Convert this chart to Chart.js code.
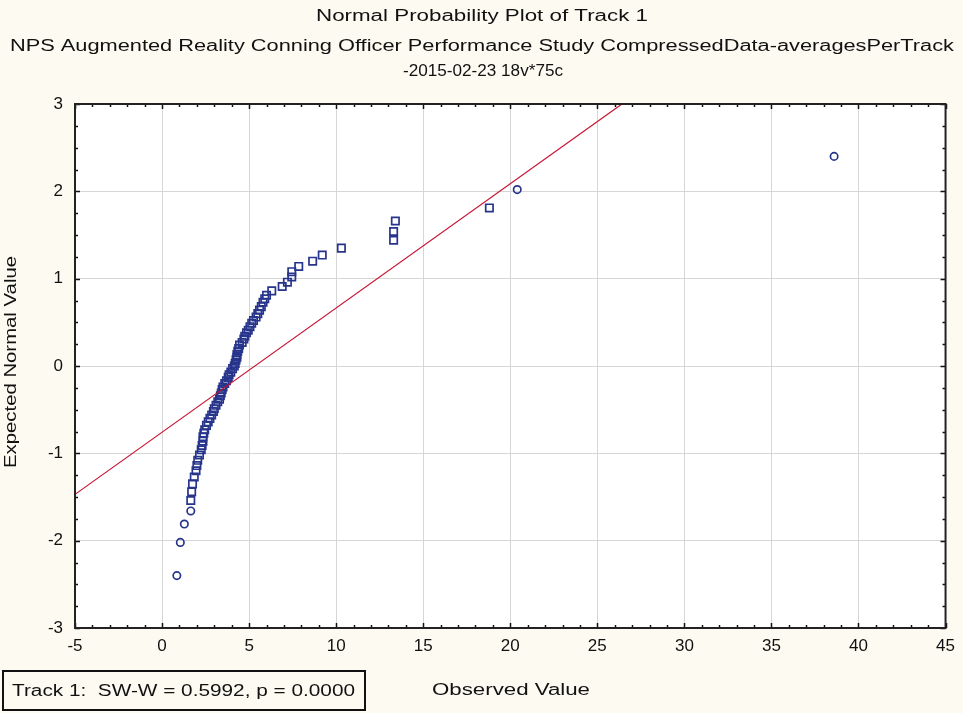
<!DOCTYPE html>
<html>
<head>
<meta charset="utf-8">
<script src="https://cdn.jsdelivr.net/npm/chart.js@4.4.1/dist/chart.umd.min.js"></script>
<style>
  html, body { margin: 0; padding: 0; background: #fdfbf1; }
  #wrap { width: 963px; height: 713px; }
</style>
</head>
<body>
<div id="wrap"><canvas id="c" width="963" height="713"></canvas></div>
<script>
// ---- Data ----
const chartTitle = "Normal Probability Plot of Track 1";
const chartSubtitle = [
  "NPS Augmented Reality Conning Officer Performance Study CompressedData-averagesPerTrack",
  "-2015-02-23 18v*75c"
];
const xAxisTitle = "Observed Value";
const yAxisTitle = "Expected Normal Value";
const statText = "Track 1:  SW-W = 0.5992, p = 0.0000";

// observed values (sorted)
const observedValues = [
  0.85, 1.05, 1.28, 1.65, 1.65, 1.70, 1.75, 1.85, 1.95, 2.00,
  2.05, 2.15, 2.25, 2.30, 2.35, 2.35, 2.40, 2.45, 2.55, 2.65,
  2.75, 2.85, 2.95, 3.00, 3.10, 3.20, 3.30, 3.35, 3.40, 3.45,
  3.50, 3.60, 3.70, 3.80, 3.85, 3.95, 4.05, 4.15, 4.20, 4.25,
  4.30, 4.30, 4.35, 4.40, 4.45, 4.60, 4.70, 4.75, 4.85, 4.95,
  5.05, 5.15, 5.25, 5.40, 5.50, 5.60, 5.70, 5.80, 5.90, 6.00,
  6.30, 6.90, 7.20, 7.45, 7.45, 7.85, 8.65, 9.20, 10.30, 13.30,
  13.30, 13.40, 18.80, 20.40, 38.60
];
// expected normal values (as plotted)
const expectedNormal = [
  -2.40, -2.02, -1.81, -1.66, -1.54, -1.44, -1.35, -1.27, -1.20, -1.14,
  -1.08, -1.02, -0.96, -0.91, -0.86, -0.81, -0.77, -0.73, -0.68, -0.64,
  -0.60, -0.56, -0.52, -0.49, -0.45, -0.41, -0.38, -0.34, -0.31, -0.27,
  -0.24, -0.20, -0.17, -0.13, -0.10, -0.07, -0.03, 0.00, 0.03, 0.07,
  0.10, 0.13, 0.17, 0.20, 0.24, 0.27, 0.31, 0.34, 0.38, 0.41,
  0.45, 0.49, 0.52, 0.56, 0.60, 0.64, 0.68, 0.73, 0.77, 0.81,
  0.86, 0.91, 0.96, 1.02, 1.08, 1.14, 1.20, 1.27, 1.35, 1.44,
  1.54, 1.66, 1.81, 2.02, 2.40
];
// which points are drawn as circles (the rest are squares)
const circleMarkers = [0, 1, 2, 3, 73, 74];

// reference (fit) line end points
const fitLineX = [-5, 30];
const fitLineY = [-1.47, 3.51];

// axis ranges
const xRange = [-5, 45];
const yRange = [-3, 3];

// ---- Build chart ----
const pointData = observedValues.map((x, i) => ({ x: x, y: expectedNormal[i] }));
const lineData = fitLineX.map((x, i) => ({ x: x, y: fitLineY[i] }));
const pointStyles = observedValues.map((_, i) => circleMarkers.includes(i) ? 'circle' : 'rect');
const pointRadii = observedValues.map((_, i) => circleMarkers.includes(i) ? 3.7 : 5.2);

const BG = '#fdfbf1';
const FONT = '"Liberation Sans", Arial, sans-serif';

// draw text centred at (cx, cy), stretched along its direction to a target length
function fitText(ctx, text, cx, cy, targetLen, size, rot) {
  ctx.save();
  ctx.font = size + 'px ' + FONT;
  ctx.textAlign = 'center';
  ctx.textBaseline = 'middle';
  const w = ctx.measureText(text).width;
  ctx.translate(cx, cy);
  if (rot) ctx.rotate(rot);
  ctx.scale(targetLen / w, 1);
  ctx.fillText(text, 0, 0);
  ctx.restore();
}

const decor = {
  id: 'decor',
  beforeDraw(chart) {
    const ctx = chart.ctx;
    const a = chart.chartArea;
    ctx.save();
    ctx.fillStyle = BG;
    ctx.fillRect(0, 0, chart.width, chart.height);
    ctx.fillStyle = '#ffffff';
    ctx.fillRect(a.left, a.top, a.right - a.left, a.bottom - a.top);
    ctx.restore();
  },
  afterDatasetsDraw(chart) {
    const ctx = chart.ctx;
    const a = chart.chartArea;
    const xs = chart.scales.x, ys = chart.scales.y;
    ctx.save();
    // inward tick marks
    ctx.strokeStyle = '#111';
    ctx.lineWidth = 1.5;
    ctx.beginPath();
    for (let v = xRange[0]; v <= xRange[1]; v += 1) {
      const px = Math.round(xs.getPixelForValue(v)) + 0.5;
      const len = (v % 5 === 0) ? 5 : 3;
      ctx.moveTo(px, a.bottom); ctx.lineTo(px, a.bottom - len);
      ctx.moveTo(px, a.top); ctx.lineTo(px, a.top + len);
    }
    for (let v = yRange[0]; v <= yRange[1] + 1e-9; v += 0.25) {
      const py = Math.round(ys.getPixelForValue(v)) + 0.5;
      const len = (Math.abs(v - Math.round(v)) < 1e-9) ? 5 : 3;
      ctx.moveTo(a.left, py); ctx.lineTo(a.left + len, py);
      ctx.moveTo(a.right, py); ctx.lineTo(a.right - len, py);
    }
    ctx.stroke();
    // frame
    ctx.strokeStyle = '#222';
    ctx.lineWidth = 2;
    ctx.strokeRect(a.left, a.top, a.right - a.left, a.bottom - a.top);
    ctx.restore();
  },
  afterDraw(chart) {
    const ctx = chart.ctx;
    const a = chart.chartArea;
    ctx.save();
    ctx.fillStyle = '#111';
    fitText(ctx, chartTitle, 482, 17, 332, 16, 0);
    fitText(ctx, chartSubtitle[0], 482, 47, 944, 16, 0);
    fitText(ctx, chartSubtitle[1], 483, 72, 160, 16, 0);
    fitText(ctx, xAxisTitle, 511, 691, 158, 16, 0);
    fitText(ctx, yAxisTitle, 12, 362, 212, 16, -Math.PI / 2);
    // stats box
    ctx.strokeStyle = '#111';
    ctx.lineWidth = 2;
    ctx.strokeRect(3, 671, 362, 39);
    ctx.fillStyle = '#111';
    fitText(ctx, statText, 183.5, 692, 343, 16, 0);
    ctx.restore();
  }
};

new Chart(document.getElementById('c'), {
  type: 'scatter',
  data: {
    datasets: [
      {
        label: 'Track 1',
        data: pointData,
        pointStyle: pointStyles,
        pointRadius: pointRadii,
        pointBorderColor: '#27348b',
        pointBackgroundColor: 'rgba(0,0,0,0)',
        pointBorderWidth: 1.7,
        showLine: false,
        order: 2
      },
      {
        label: 'fit',
        data: lineData,
        showLine: true,
        borderColor: '#c8102e',
        borderWidth: 1.2,
        pointRadius: 0,
        fill: false,
        order: 1
      }
    ]
  },
  options: {
    responsive: false,
    animation: false,
    devicePixelRatio: 1,
    layout: { padding: { top: 104, right: 17, left: 0, bottom: 0 } },
    plugins: {
      legend: { display: false },
      tooltip: { enabled: false },
      title: { display: false }
    },
    scales: {
      x: {
        type: 'linear',
        min: xRange[0], max: xRange[1],
        ticks: { stepSize: 5, color: '#111', font: { family: FONT, size: 17 }, padding: 8, maxRotation: 0 },
        grid: { color: '#d6d6d6', lineWidth: 1, drawTicks: false },
        border: { display: false },
        title: { display: false },
        afterFit(scale) { scale.height = 85; }
      },
      y: {
        type: 'linear',
        min: yRange[0], max: yRange[1],
        ticks: { stepSize: 1, color: '#111', font: { family: FONT, size: 17 }, padding: 12 },
        grid: { color: '#d6d6d6', lineWidth: 1, drawTicks: false },
        border: { display: false },
        title: { display: false },
        afterFit(scale) { scale.width = 75; }
      }
    }
  },
  plugins: [decor]
});
</script>
</body>
</html>
